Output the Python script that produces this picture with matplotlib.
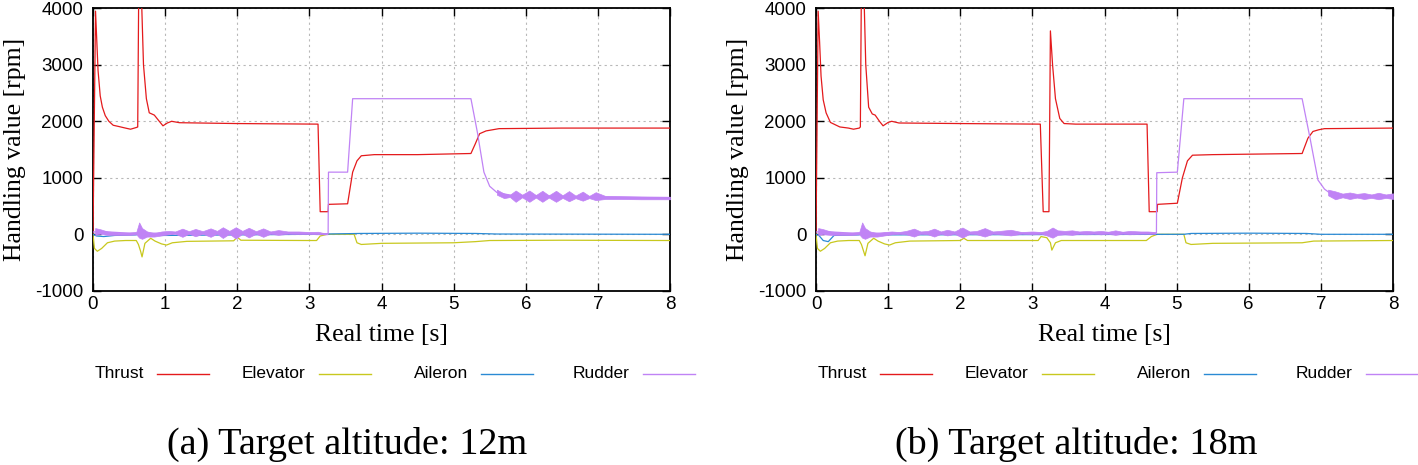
import numpy as np
import matplotlib
matplotlib.use('Agg')
from matplotlib import pyplot as plt

plt.rcParams['axes.unicode_minus'] = False

# ---- data (time [s], value [rpm]) ----

# (a) target altitude 12m
thrust_a_t = [0, 0.035, 0.05, 0.07, 0.1, 0.13, 0.17, 0.22, 0.28, 0.35, 0.45, 0.52, 0.6, 0.62, 0.635, 0.665, 0.7,
              0.74, 0.78, 0.85, 0.9, 0.97, 1.03, 1.09, 1.2, 2.0, 3.12, 3.15, 3.26, 3.265, 3.53, 3.6, 3.66, 3.72,
              3.9, 4.5, 5.24, 5.3, 5.36, 5.45, 5.63, 6.5, 8.0]
thrust_a_v = [0, 3950, 3500, 2900, 2450, 2250, 2100, 2000, 1930, 1910, 1880, 1860, 1890, 1900, 4500, 4500, 3000,
              2400, 2150, 2110, 2030, 1920, 1970, 2000, 1975, 1960, 1950, 400, 400, 530, 540, 1100, 1300, 1390,
              1410, 1410, 1430, 1600, 1780, 1830, 1870, 1880, 1880]

elev_a_t = [0, 0.02, 0.06, 0.12, 0.2, 0.3, 0.45, 0.6, 0.63, 0.66, 0.68, 0.72, 0.8, 0.86, 0.95, 1.02, 1.1, 1.3,
            1.95, 2.0, 2.05, 3.0, 3.1, 3.15, 3.25, 3.62, 3.66, 3.72, 4.0, 5.0, 5.3, 5.5, 6.5, 8.0]
elev_a_v = [0, -250, -300, -250, -150, -120, -110, -110, -180, -300, -400, -160, -70, -120, -170, -190, -150, -125,
            -115, -50, -105, -110, -110, -30, 0, 0, -150, -180, -160, -150, -130, -110, -105, -110]

ail_a_t = [0, 0.05, 0.15, 0.3, 0.6, 0.65, 0.7, 1.0, 3.0, 3.7, 4.5, 5.3, 5.6, 8.0]
ail_a_v = [0, -30, -40, -20, -10, 40, -20, -20, 0, 15, 20, 15, 5, 0]

rud_a_t = [0, 0.1, 0.5, 1.0, 2.0, 3.0, 3.26, 3.265, 3.53, 3.6, 5.24, 5.33, 5.42, 5.5, 5.6, 5.8, 6.5, 7.5, 8.0]
rud_a_v = [40, 50, 20, 20, 30, 20, 10, 1100, 1100, 2400, 2400, 1800, 1100, 850, 740, 690, 670, 650, 645]

# rudder oscillation envelope (low/high)
band_a_t = [0.03, 0.1, 0.2, 0.35, 0.5, 0.6, 0.64, 0.68, 0.75, 0.85, 0.95, 1.05, 1.14, 1.24, 1.33, 1.42, 1.52,
            1.63, 1.72, 1.80, 1.89, 1.98, 2.07, 2.16, 2.26, 2.36, 2.46, 2.57, 2.7, 2.85, 3.0, 3.12, 3.2, 3.25]
band_a_hi = [110, 90, 50, 30, 30, 40, 210, 110, 50, 20, 50, 60, 50, 100, 55, 95, 55, 105, 60, 125, 60, 125, 60,
             115, 55, 105, 50, 75, 50, 50, 40, 45, 20, 10]
band_a_lo = [-10, 10, -10, -10, -10, 0, -60, -80, -40, -40, -20, 0, 10, -45, 10, -35, 10, -45, 10, -65, 10, -75,
             10, -55, 10, -45, 10, -10, 10, 5, 5, 0, 0, 0]
band2_a_t = [5.6, 5.7, 5.78, 5.86, 5.95, 6.05, 6.14, 6.23, 6.32, 6.42, 6.51, 6.6, 6.69, 6.79, 6.88, 6.97, 7.1,
             7.3, 7.6, 8.0]
band2_a_hi = [790, 720, 700, 775, 700, 775, 695, 770, 690, 770, 690, 765, 685, 755, 680, 745, 680, 675, 670, 665]
band2_a_lo = [700, 640, 660, 575, 655, 575, 650, 575, 650, 575, 645, 585, 640, 595, 640, 605, 625, 625, 620, 620]

# (b) target altitude 18m
thrust_b_t = [0, 0.03, 0.05, 0.07, 0.1, 0.14, 0.2, 0.33, 0.45, 0.52, 0.6, 0.615, 0.63, 0.66, 0.69, 0.73, 0.78,
              0.82, 0.88, 0.93, 1.0, 1.05, 1.15, 2.0, 3.11, 3.15, 3.23, 3.25, 3.28, 3.32, 3.38, 3.44, 3.6, 4.59,
              4.62, 4.73, 4.735, 5.01, 5.08, 5.15, 5.22, 5.5, 6.74, 6.82, 6.89, 6.97, 7.05, 8.0]
thrust_b_v = [0, 3950, 3400, 2800, 2380, 2150, 1980, 1900, 1880, 1860, 1880, 1900, 4500, 4500, 3000, 2250, 2130,
              2110, 2000, 1920, 1980, 2000, 1970, 1960, 1950, 400, 400, 3600, 3000, 2400, 2050, 1960, 1950, 1950,
              400, 400, 530, 550, 1000, 1300, 1400, 1410, 1430, 1700, 1820, 1850, 1870, 1880]

elev_b_t = [0, 0.02, 0.06, 0.12, 0.2, 0.3, 0.45, 0.6, 0.63, 0.66, 0.68, 0.72, 0.8, 0.86, 0.95, 1.02, 1.1, 1.3,
            2.0, 2.05, 2.1, 3.08, 3.12, 3.2, 3.25, 3.27, 3.32, 3.4, 4.58, 4.65, 4.73, 5.1, 5.13, 5.2, 5.5, 6.74,
            6.9, 8.0]
elev_b_v = [0, -250, -300, -250, -150, -120, -110, -110, -180, -300, -380, -160, -70, -120, -170, -190, -150,
            -120, -110, -70, -110, -110, -40, -60, -150, -280, -150, -110, -110, -40, 0, 0, -150, -180, -160,
            -150, -120, -110]

ail_b_t = [0, 0.04, 0.1, 0.17, 0.25, 0.6, 0.65, 0.7, 1.0, 5.1, 5.2, 6.0, 6.8, 7.0, 8.0]
ail_b_v = [0, -20, -110, -130, -20, -10, 30, -20, -10, 0, 15, 20, 15, 0, 0]

rud_b_t = [0, 0.1, 0.5, 1.0, 2.0, 3.0, 4.0, 4.72, 4.725, 5.01, 5.1, 6.74, 6.85, 6.96, 7.05, 7.12, 7.3, 8.0]
rud_b_v = [40, 50, 20, 20, 30, 20, 30, 20, 1090, 1100, 2400, 2400, 1700, 960, 800, 735, 690, 670]

band_b_t = [0.03, 0.1, 0.2, 0.35, 0.5, 0.6, 0.64, 0.68, 0.75, 0.85, 0.95, 1.05, 1.15, 1.25, 1.36, 1.45, 1.55,
            1.64, 1.73, 1.82, 1.92, 2.03, 2.13, 2.23, 2.34, 2.45, 2.55, 2.7, 2.85, 3.0, 3.12, 3.2, 3.28, 3.35,
            3.45, 3.55, 3.65, 3.75, 3.85, 3.95, 4.05, 4.15, 4.25, 4.35, 4.5, 4.6, 4.7]
band_b_hi = [110, 90, 50, 30, 30, 40, 210, 110, 50, 20, 40, 50, 40, 60, 100, 50, 60, 100, 50, 80, 50, 120, 50,
             60, 110, 50, 60, 80, 40, 50, 40, 60, 120, 70, 60, 70, 50, 60, 50, 60, 45, 70, 45, 60, 50, 50, 40]
band_b_lo = [-10, 0, -10, -10, -10, 0, -60, -80, -40, -40, -20, 0, 10, 0, -40, 10, 0, -40, 10, -20, 10, -60, 10,
             0, -40, 10, 0, -20, 10, 0, 10, -20, -60, -10, 0, -10, 10, 0, 10, 0, 10, -10, 10, 0, 10, 10, 10]
band2_b_t = [7.1, 7.2, 7.3, 7.4, 7.5, 7.6, 7.7, 7.8, 7.9, 8.0]
band2_b_hi = [790, 760, 720, 740, 715, 730, 705, 735, 705, 725]
band2_b_lo = [690, 620, 655, 625, 650, 625, 645, 620, 645, 625]

labels = ['Thrust', 'Elevator', 'Aileron', 'Rudder']
colors = ['#e41a1c', '#c8c81e', '#2a8ad4', '#c083f5']
captions = ['(a) Target altitude: 12m', '(b) Target altitude: 18m']

panels = [
    dict(thrust=(thrust_a_t, thrust_a_v), elev=(elev_a_t, elev_a_v), ail=(ail_a_t, ail_a_v),
         rud=(rud_a_t, rud_a_v), bands=[(band_a_t, band_a_lo, band_a_hi), (band2_a_t, band2_a_lo, band2_a_hi)]),
    dict(thrust=(thrust_b_t, thrust_b_v), elev=(elev_b_t, elev_b_v), ail=(ail_b_t, ail_b_v),
         rud=(rud_b_t, rud_b_v), bands=[(band_b_t, band_b_lo, band_b_hi), (band2_b_t, band2_b_lo, band2_b_hi)]),
]

W, H = 1418, 465
fig = plt.figure(figsize=(W / 100, H / 100), dpi=100)

sans = ['Liberation Sans', 'DejaVu Sans']
serif = ['Liberation Serif', 'DejaVu Serif']

ax_left = [93, 816]
ax_w = 577
ax_top, ax_bot = 8.3, 290.8

# legend layout (px offsets from the axes' left edge)
leg_text_x = [2, 149, 321, 480]
leg_line_x = [64, 226, 388, 550]
leg_line_len = 52
leg_y = 374

for k, p in enumerate(panels):
    ax = fig.add_axes([ax_left[k] / W, 1 - ax_bot / H, ax_w / W, (ax_bot - ax_top) / H])

    ax.plot(*p['thrust'], color=colors[0], lw=0.9, zorder=3)
    ax.plot(*p['elev'], color=colors[1], lw=0.9, zorder=3)
    ax.plot(*p['ail'], color=colors[2], lw=0.9, zorder=3)
    ax.plot(*p['rud'], color=colors[3], lw=0.9, zorder=4)
    for bt, blo, bhi in p['bands']:
        ax.fill_between(bt, blo, bhi, color=colors[3], lw=0.5, zorder=4)

    ax.set_xlim(0, 8)
    ax.set_ylim(-1000, 4000)
    ax.set_xticks(np.arange(0, 9, 1))
    ax.set_yticks(np.arange(-1000, 4001, 1000))
    ax.grid(True, color='#b8b8b8', lw=0.8, linestyle=(0, (2, 3)))
    ax.set_axisbelow(True)
    ax.tick_params(direction='in', top=True, right=True, length=6, width=1, labelsize=13.5)
    ax.tick_params(axis='x', pad=4)
    ax.tick_params(axis='y', pad=7)
    for lab in ax.get_xticklabels() + ax.get_yticklabels():
        lab.set_family(sans)
    for sp in ax.spines.values():
        sp.set_linewidth(1.3)

    ax.set_xlabel('Real time [s]', family=serif, fontsize=18.5)
    ax.set_ylabel('Handling value [rpm]', family=serif, fontsize=18.5)
    ax.xaxis.set_label_coords(0.5, (ax_bot - 324) / (ax_bot - ax_top))
    ax.yaxis.set_label_coords((26 - ax_left[0]) / ax_w, 0.5)

    # gnuplot style key: text, then line sample
    ly = (ax_bot - leg_y) / (ax_bot - ax_top)
    for i in range(4):
        ax.text(leg_text_x[i] / ax_w, ly, labels[i], transform=ax.transAxes, family=sans,
                fontsize=12.5, ha='left', va='center')
        x0 = leg_line_x[i] / ax_w
        ax.plot([x0, x0 + leg_line_len / ax_w], [ly, ly], transform=ax.transAxes, color=colors[i],
                lw=1.0, clip_on=False)

    cx = [347, 1076][k]
    fig.text(cx / W, 11 / H, captions[k], family=serif, fontsize=27.5, ha='center', va='baseline')

fig.savefig('out.png', dpi=100)
